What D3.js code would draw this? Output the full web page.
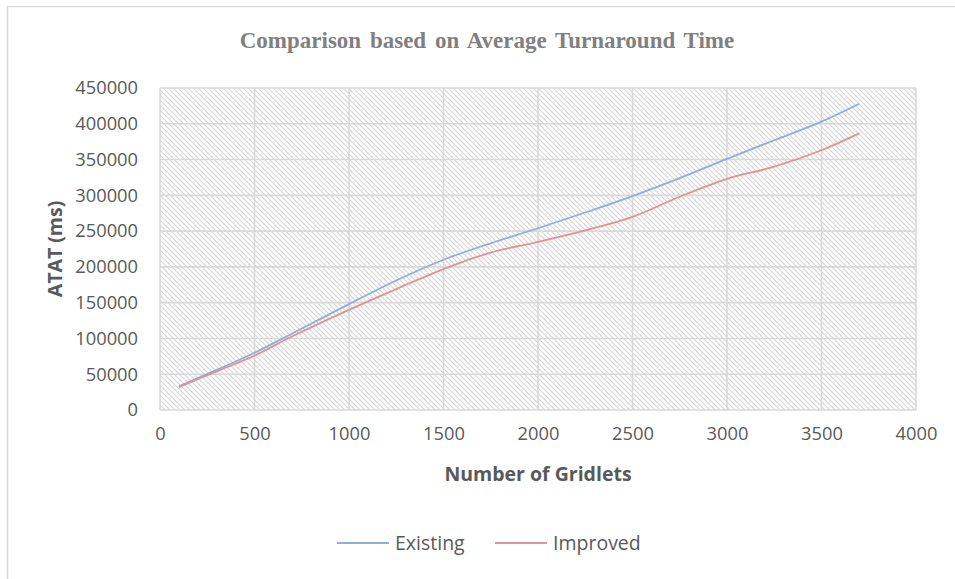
<!DOCTYPE html>
<html>
<head>
<meta charset="utf-8">
<script src="https://cdn.jsdelivr.net/npm/d3@7"></script>
<style>
  html, body { margin: 0; padding: 0; background: #fff; }
  svg { display: block; }
</style>
</head>
<body>
<svg id="chart" width="955" height="579"></svg>
<script>
const titleText = "Comparison based on Average Turnaround Time";
const xAxisTitle = "Number of Gridlets";
const yAxisTitle = "ATAT (ms)";
const seriesNames = ["Existing", "Improved"];
const seriesColors = ["#8eaedb", "#dd9494"];
const gridlets = [100, 300, 500, 700, 1000, 1250, 1500, 1750, 2000, 2250, 2500, 2750, 3000, 3250, 3500, 3700];
const existing = [33000, 56000, 80000, 107000, 148000, 181000, 210000, 233000, 254000, 276000, 299000, 324000, 351000, 377000, 403000, 428000];
const improved = [32000, 54000, 76000, 103000, 140000, 169000, 197000, 220000, 235000, 251000, 270000, 298000, 323000, 340000, 363000, 386500];
const xTicks = [0, 500, 1000, 1500, 2000, 2500, 3000, 3500, 4000];
const yTicks = [0, 50000, 100000, 150000, 200000, 250000, 300000, 350000, 400000, 450000];

const svg = d3.select("#chart");
const plot = { left: 160, right: 916, top: 88, bottom: 410 };
const x = d3.scaleLinear().domain([0, 4000]).range([plot.left, plot.right]);
const y = d3.scaleLinear().domain([0, 450000]).range([plot.bottom, plot.top]);

// chart area border
svg.append("rect").attr("x", 7.5).attr("y", 6.5).attr("width", 1200).attr("height", 1200)
  .attr("fill", "#fff").attr("stroke", "#d9d9d9").attr("stroke-width", 1.5);

// hatch pattern
const defs = svg.append("defs");
const pat = defs.append("pattern").attr("id", "hatch").attr("patternUnits", "userSpaceOnUse")
  .attr("width", 5).attr("height", 5);
pat.append("rect").attr("width", 5).attr("height", 5).attr("fill", "#fff");
pat.append("path").attr("d", "M-1,-1 L6,6 M-1,4 L1,6 M4,-1 L6,1")
  .attr("stroke", "#d4d4d4").attr("stroke-width", 1.1);

svg.append("rect").attr("x", plot.left).attr("y", plot.top)
  .attr("width", plot.right - plot.left).attr("height", plot.bottom - plot.top)
  .attr("fill", "url(#hatch)");

// gridlines
const grid = svg.append("g");
grid.selectAll(".hg").data(yTicks).join("line")
  .attr("x1", plot.left).attr("x2", plot.right)
  .attr("y1", d => y(d)).attr("y2", d => y(d))
  .attr("stroke", "#d9d9d9").attr("stroke-width", 1.6);
grid.selectAll(".vg").data(xTicks).join("line")
  .attr("y1", plot.top).attr("y2", plot.bottom)
  .attr("x1", d => x(d)).attr("x2", d => x(d))
  .attr("stroke", "#d9d9d9").attr("stroke-width", 1.6);

// axes via d3
const tickFont = "'Open Sans', 'Noto Sans', sans-serif";
const yAxis = svg.append("g").attr("transform", `translate(${plot.left},0)`)
  .call(d3.axisLeft(y).tickValues(yTicks).tickSize(0).tickPadding(22).tickFormat(d3.format("d")));
yAxis.select(".domain").remove();
yAxis.selectAll("text").attr("font-family", tickFont).attr("font-size", 18.3).attr("fill", "#595959");

const xAxis = svg.append("g").attr("transform", `translate(0,${plot.bottom})`)
  .call(d3.axisBottom(x).tickValues(xTicks).tickSize(0).tickPadding(17).tickFormat(d3.format("d")));
xAxis.select(".domain").remove();
xAxis.selectAll("text").attr("font-family", tickFont).attr("font-size", 18.3).attr("fill", "#595959");

// lines
const line = d3.line().x(d => x(d[0])).y(d => y(d[1])).curve(d3.curveCatmullRom.alpha(0.5));
const allSeries = [existing, improved];
allSeries.forEach((vals, i) => {
  svg.append("path").datum(gridlets.map((g, j) => [g, vals[j]]))
    .attr("d", line).attr("fill", "none")
    .attr("stroke", seriesColors[i]).attr("stroke-width", 1.8);
});

// title
svg.append("text").attr("x", 487).attr("y", 48).attr("text-anchor", "middle")
  .attr("font-family", "'Liberation Serif', 'Times New Roman', serif")
  .attr("font-weight", "bold").attr("font-size", 23).attr("word-spacing", 3).attr("fill", "#808080")
  .text(titleText);

// axis titles
svg.append("text").attr("x", (plot.left + plot.right) / 2).attr("y", 481).attr("text-anchor", "middle")
  .attr("font-family", tickFont).attr("font-weight", "bold").attr("font-size", 19.5).attr("fill", "#595959")
  .text(xAxisTitle);
svg.append("text").attr("transform", `translate(62,${(plot.top + plot.bottom) / 2}) rotate(-90)`)
  .attr("text-anchor", "middle")
  .attr("font-family", tickFont).attr("font-weight", "bold").attr("font-size", 19.5).attr("fill", "#595959")
  .text(yAxisTitle);

// legend
const legendX = [337, 495];
seriesNames.forEach((name, i) => {
  const g = svg.append("g").attr("transform", `translate(${legendX[i]},543)`);
  g.append("line").attr("x1", 0).attr("x2", 52).attr("y1", 0).attr("y2", 0)
    .attr("stroke", seriesColors[i]).attr("stroke-width", 1.8);
  g.append("text").attr("x", 58).attr("y", 7).attr("font-family", tickFont)
    .attr("font-size", 19.5).attr("fill", "#595959").text(name);
});
</script>
</body>
</html>
